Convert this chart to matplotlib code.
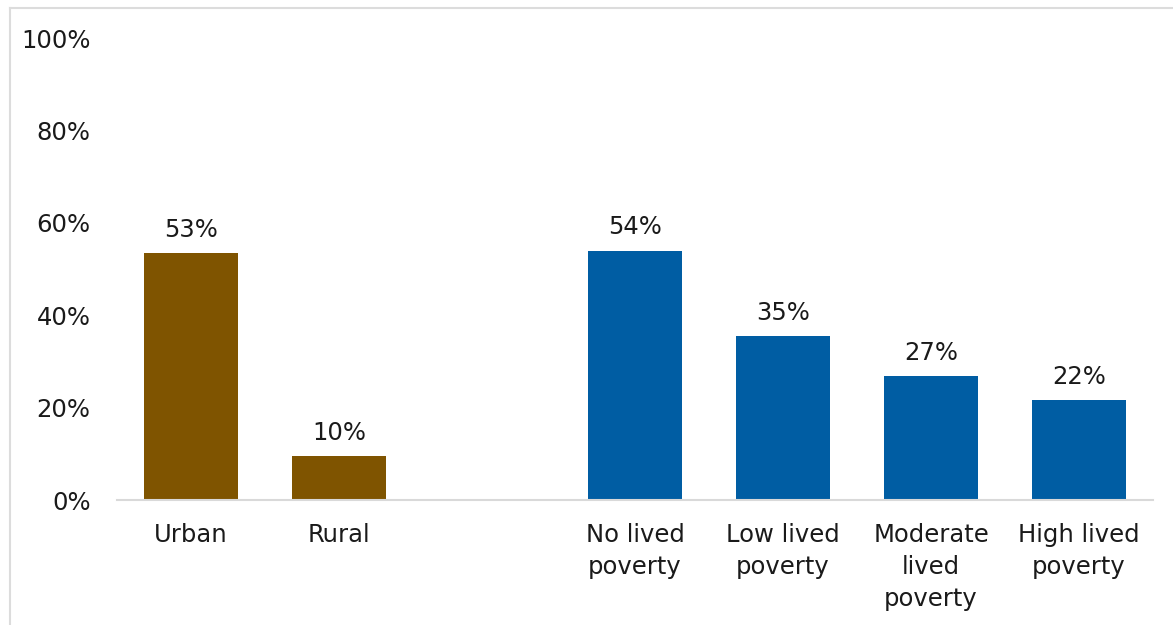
import matplotlib
matplotlib.use("Agg")
import matplotlib.pyplot as plt
from matplotlib.lines import Line2D

categories = ["Urban", "Rural", "", "No lived\npoverty", "Low lived\npoverty",
              "Moderate\nlived\npoverty", "High lived\npoverty"]
values = [53.5, 9.5, None, 54.0, 35.5, 26.8, 21.6]
labels = ["53%", "10%", "", "54%", "35%", "27%", "22%"]
colors = ["#7F5400", "#7F5400", None, "#005DA3", "#005DA3", "#005DA3", "#005DA3"]
yticks = [0, 20, 40, 60, 80, 100]
ytick_labels = ["0%", "20%", "40%", "60%", "80%", "100%"]

plt.rcParams['font.family'] = ['DejaVu Sans']
FS = 17.5
TXT = "#1a1a1a"

W, H = 1173, 625
fig = plt.figure(figsize=(W / 100, H / 100), dpi=100)
ax = fig.add_axes([117 / W, (H - 500) / H, (1153 - 117) / W, (500 - 38) / H])

xs = list(range(len(categories)))
for x, v, c, lab in zip(xs, values, colors, labels):
    if v is None:
        continue
    ax.bar(x, v, width=0.635, color=c, zorder=2)
    ax.annotate(lab, (x, v), xytext=(0, 8), textcoords="offset points",
                ha="center", va="bottom", fontsize=FS, color=TXT)

ax.set_xlim(-0.5, len(categories) - 0.5)
ax.set_ylim(0, 100)
ax.set_yticks(yticks)
ax.set_yticklabels(ytick_labels, fontsize=FS, color=TXT)
ax.set_xticks(xs)
ax.set_xticklabels(categories, fontsize=FS, color=TXT, linespacing=1.42)
ax.tick_params(axis="y", length=0, pad=19)
ax.tick_params(axis="x", length=0, pad=16.5)
for s in ["top", "right", "left"]:
    ax.spines[s].set_visible(False)
ax.spines["bottom"].set_color("#d9d9d9")
ax.spines["bottom"].set_linewidth(1.5)

# outer frame lines (top and left)
fig.add_artist(Line2D([10 / W, 1.0], [1 - 7.5 / H, 1 - 7.5 / H], color="#dcdcdc", lw=1.5))
fig.add_artist(Line2D([10 / W, 10 / W], [0, 1 - 7.5 / H], color="#dcdcdc", lw=1.5))

fig.savefig("out.png", dpi=100)
